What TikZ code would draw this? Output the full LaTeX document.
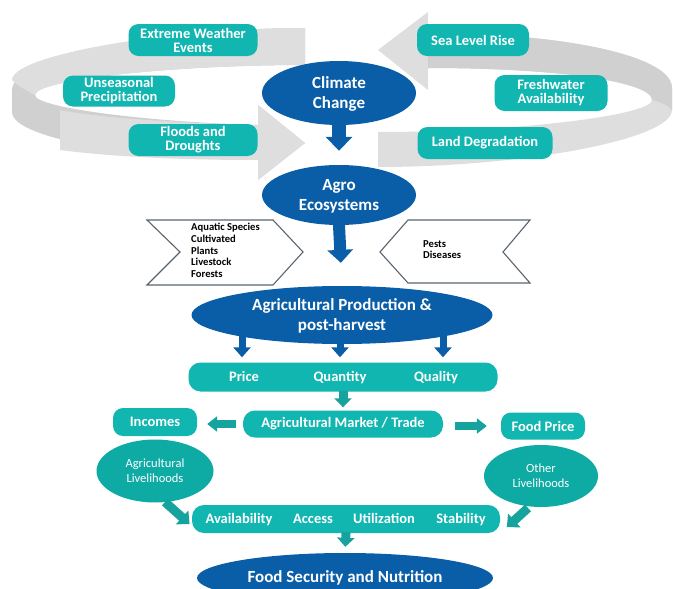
\documentclass[tikz,border=0pt]{standalone}
\usepackage{fontspec}
\setmainfont{Carlito}
\usetikzlibrary{shapes.geometric,arrows.meta,calc}
\definecolor{tealbox}{RGB}{18,182,177}
\definecolor{tealell}{RGB}{14,170,164}
\definecolor{tealarr}{RGB}{22,163,158}
\definecolor{blueC}{RGB}{10,94,168}
\definecolor{grayA}{RGB}{222,222,222}
\definecolor{grayB}{RGB}{208,208,208}
\definecolor{chevline}{RGB}{90,100,110}
\begin{document}
\begin{tikzpicture}[x=1pt,y=-1pt,
  tbox/.style={fill=tealbox, rounded corners=10pt, text=white, align=center, inner sep=0pt,
    font=\bfseries\fontsize{14.5}{14}\selectfont},
  bell/.style={ellipse, fill=blueC, text=white, align=center, inner sep=0pt, text depth=0pt,
    font=\bfseries\fontsize{17}{20}\selectfont},
  tell/.style={ellipse, fill=tealell, text=white, align=center, inner sep=0pt,
    font=\fontsize{12.5}{15}\selectfont},
  lbl/.style={text=white, inner sep=0pt, text height=9pt, text depth=2pt, font=\bfseries\fontsize{14.5}{15}\selectfont},
  chevtxt/.style={align=left, inner sep=0pt, anchor=north west, font=\bfseries\fontsize{10.6}{11.7}\selectfont},
  bluearr/.style={draw=blueC, -{Triangle[width=26pt,length=14pt]}},
  smallblue/.style={draw=blueC, line width=7pt, -{Triangle[width=17pt,length=10pt]}},
  tarr/.style={draw=tealarr, line width=7.5pt, -{Triangle[width=15pt,length=10pt]}},
  tarrd/.style={draw=tealarr, line width=9pt, -{Triangle[width=18pt,length=10pt]}},
  chev/.style={draw=chevline, line width=1.1pt, fill=white, line join=miter}
]
\useasboundingbox (0,0) rectangle (673,589);

% ---- left ribbon ----
\fill[grayB] (305,28) .. controls (170,28) and (12,55) .. (12,90)
  -- (12,112) .. controls (12,140) and (150,160) .. (258,160) -- (258,180) -- (305,143) -- (258,105) -- (258,125)
  .. controls (150,122) and (35,108) .. (35,95) .. controls (35,80) and (170,65) .. (305,65) -- cycle;
\fill[grayA] (305,28) .. controls (170,28) and (12,55) .. (12,80)
  .. controls (20,88) and (30,92) .. (35,95) .. controls (35,80) and (170,65) .. (305,65) -- cycle;
\fill[grayA] (258,125) .. controls (180,123) and (100,118) .. (60,110) -- (60,150) .. controls (120,158) and (200,160) .. (258,160) -- (258,180) -- (305,143) -- (258,105) -- cycle;

% ---- right ribbon ----
\fill[grayA] (378,50) -- (428,12) -- (428,33) .. controls (560,33) and (672,55) .. (672,88)
  -- (672,110) .. controls (672,140) and (520,167) .. (378,167) -- (378,132)
  .. controls (520,132) and (652,115) .. (652,100) .. controls (652,82) and (560,68) .. (428,68) -- (428,90) -- cycle;
\fill[grayB] (428,33) .. controls (560,33) and (672,55) .. (672,88) -- (672,110)
  .. controls (666,104) and (660,102) .. (652,100) .. controls (652,82) and (560,68) .. (428,68) -- cycle;

% ---- teal boxes around the ribbons ----
\node[tbox, minimum width=129pt, minimum height=32pt] (ew) at (193,40) {Extreme Weather\\Events};
\node[tbox, minimum width=112pt, minimum height=31pt] (up) at (119,91) {Unseasonal\\Precipitation};
\node[tbox, minimum width=129pt, minimum height=32pt] (fd) at (193,140) {Floods and\\Droughts};
\node[tbox, minimum width=112pt, minimum height=32pt] (sl) at (473,40) {Sea Level Rise};
\node[tbox, minimum width=113pt, minimum height=36pt] (fw) at (551,93) {Freshwater\\Availability};
\node[tbox, minimum width=135pt, minimum height=32pt] (ld) at (485,143) {Land Degradation};

% ---- blue ellipses ----
\node[bell, minimum width=154pt, minimum height=64pt] (cc) at (339,93) {Climate\\Change};
\node[bell, minimum width=154pt, minimum height=60pt] (agro) at (339,195) {Agro\\Ecosystems};
\node[bell, minimum width=301pt, minimum height=58pt] (ap) at (342,315) {Agricultural Production \&\\post-harvest};

\draw[bluearr, line width=14pt, shorten <=-6pt, shorten >=14pt] (cc.south) -- (agro.north);
\draw[bluearr, line width=12pt, -{Triangle[width=25pt,length=13pt]}, shorten <=-4pt, shorten >=23pt] (agro.south) -- (ap.north);

% ---- chevrons ----
\draw[chev] (147,220) -- (273,220) -- (303,252) -- (273,285) -- (147,285) -- (180,252) -- cycle;
\draw[chev] (408,220) -- (530,220) -- (503,252) -- (530,283) -- (408,283) -- (380,252) -- cycle;
\node[chevtxt] (chl) at (191,223) {Aquatic Species\\Cultivated\\Plants\\Livestock\\Forests};
\node[chevtxt] (chr) at (423,240) {Pests\\Diseases};

% ---- Price / Quantity / Quality ----
\node[fill=tealbox, rounded corners=12pt, minimum width=309pt, minimum height=29pt, inner sep=0pt] (pqq) at (343,377) {};
\node[lbl] (price) at (244,378) {Price};
\node[lbl] (quant) at (340,378) {Quantity};
\node[lbl] (qual) at (436,378) {Quality};
\coordinate (ap1) at (242,334);
\coordinate (ap2) at (340,336);
\coordinate (ap3) at (443,334);
\draw[smallblue, shorten >=5pt] (ap1) -- (ap1 |- pqq.north);
\draw[smallblue, shorten >=5pt] (ap2) -- (ap2 |- pqq.north);
\draw[smallblue, shorten >=5pt] (ap3) -- (ap3 |- pqq.north);

% ---- market row ----
\node[tbox, rounded corners=12pt, minimum width=200pt, minimum height=27pt] (mkt) at (343,424) {Agricultural Market / Trade};
\node[tbox, minimum width=84pt, minimum height=28pt] (inc) at (155,422) {Incomes};
\node[tbox, minimum width=84pt, minimum height=27pt] (fp) at (543,426) {Food Price};
\draw[tarr, -{Triangle[width=17pt,length=9pt]}, line width=9pt, shorten <=-1pt, shorten >=3pt] (pqq.south -| mkt.north) -- (mkt.north);
\draw[tarr, shorten <=7pt, shorten >=10pt] (mkt.west) -- (inc.east |- mkt.west);
\draw[tarr, shorten <=12pt, shorten >=14pt] (mkt.east |- fp.west) -- (fp.west);

% ---- livelihoods ----
\node[tell, minimum width=117pt, minimum height=63pt] (agl) at (155,471) {Agricultural\\Livelihoods};
\node[tell, minimum width=114pt, minimum height=62pt] (otl) at (541,476) {Other\\Livelihoods};

% ---- availability bar ----
\node[fill=tealbox, rounded corners=12pt, minimum width=308pt, minimum height=28pt, inner sep=0pt] (bar) at (346,519) {};
\node[lbl] (av) at (239,520) {Availability};
\node[lbl] (acc) at (313,520) {Access};
\node[lbl] (ut) at (384,520) {Utilization};
\node[lbl] (st) at (461,520) {Stability};
\coordinate (la) at (165,502);
\coordinate (ra) at (528,508);
\draw[tarrd, shorten >=3pt] (la) -- ($(bar.west)!0.5!(bar.south west)$);
\draw[tarrd, shorten >=9pt] (ra) -- (bar.south east);

% ---- food security ----
\node[bell, minimum width=296pt, minimum height=50pt, text depth=2pt, font=\bfseries\fontsize{17}{18}\selectfont] (fs) at (345,578) {Food Security and Nutrition};
\draw[tarr, -{Triangle[width=17pt,length=9pt]}, line width=9pt, shorten <=-1pt, shorten >=6pt] (bar.south) -- (fs.north);
\end{tikzpicture}
\end{document}
